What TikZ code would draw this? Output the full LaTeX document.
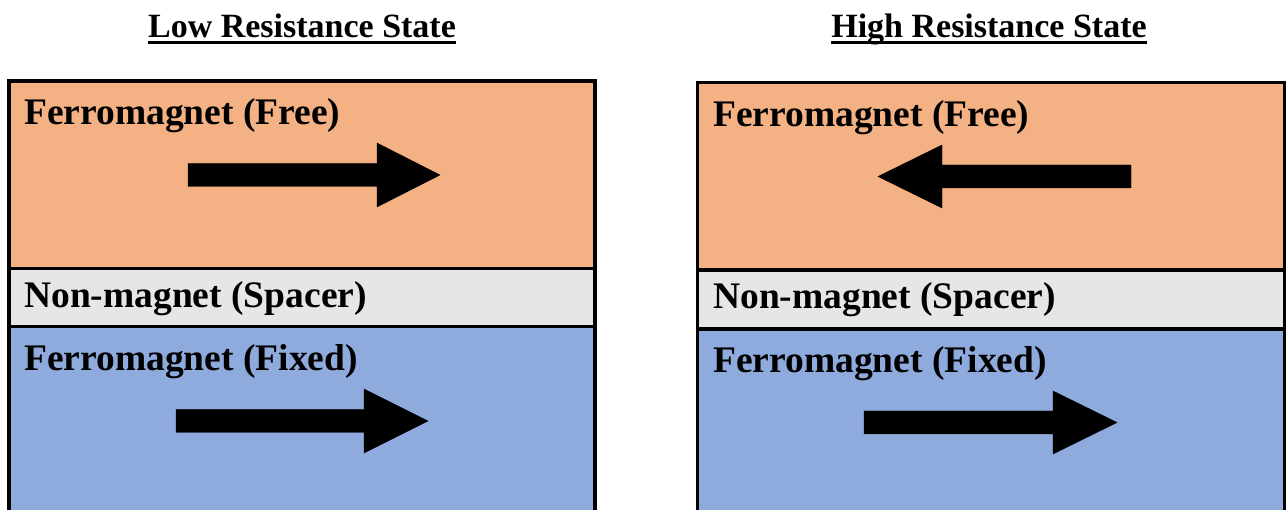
\documentclass[tikz,border=0pt]{standalone}
\usepackage{fontspec}
\setmainfont{Liberation Serif}
\definecolor{freeC}{HTML}{F4B183}
\definecolor{spacerC}{HTML}{E6E6E6}
\definecolor{fixedC}{HTML}{8FAADC}
\tikzset{
  layertext/.style={anchor=base west, inner sep=0pt, font=\fontsize{37.5}{40}\selectfont\bfseries},
  titletext/.style={anchor=base, inner sep=0pt, font=\fontsize{34}{38}\selectfont\bfseries},
  border/.style={line width=3.5pt, draw=black},
  bigarrow/.style={fill=black, draw=black, line width=0.4pt, line join=miter},
}
\begin{document}
\begin{tikzpicture}[x=1pt,y=-1pt]
\useasboundingbox (0,0) rectangle (1288,510);
\clip (0,0) rectangle (1288,510);
\fill[white] (0,0) rectangle (1288,510);

% ---------- Left panel ----------
\fill[freeC]   (9,81) rectangle (595,268.5);
\fill[spacerC] (9,268.5) rectangle (595,326.5);
\fill[fixedC]  (9,326.5) rectangle (595,530);
\draw[border] (9,530) -- (9,81) -- (595,81) -- (595,530);
\draw[border] (9,268.5) -- (595,268.5);
\draw[border] (9,326.5) -- (595,326.5);

\node[titletext] (t1) at (302,37.5) {Low Resistance State};
\draw[line width=3.5pt] ([yshift=-5pt]t1.base west) -- ([yshift=-5pt]t1.base east);

\node[layertext] (l1free)  at (24,125) {Ferromagnet (Free)};
\node[layertext] (l1space) at (24,308) {Non-magnet (Spacer)};
\node[layertext] (l1fixed) at (24,371) {Ferromagnet (Fixed)};

\fill[bigarrow] (188,163.5) -- (377,163.5) -- (377,143) -- (440,175) -- (377,207) -- (377,186.5) -- (188,186.5) -- cycle;
\fill[bigarrow] (176,409.5) -- (364,409.5) -- (364,389) -- (428,421) -- (364,453) -- (364,432.5) -- (176,432.5) -- cycle;

% ---------- Right panel ----------
\fill[freeC]   (697.5,82.5) rectangle (1284.5,270);
\fill[spacerC] (697.5,270) rectangle (1284.5,329);
\fill[fixedC]  (697.5,329) rectangle (1284.5,530);
\draw[border] (697.5,530) -- (697.5,82.5) -- (1284.5,82.5) -- (1284.5,530);
\draw[border] (697.5,270) -- (1284.5,270);
\draw[border] (697.5,329) -- (1284.5,329);

\node[titletext] (t2) at (989,37.5) {High Resistance State};
\draw[line width=3.5pt] ([yshift=-5pt]t2.base west) -- ([yshift=-5pt]t2.base east);

\node[layertext] (r1free)  at (713,127) {Ferromagnet (Free)};
\node[layertext] (r1space) at (713,309) {Non-magnet (Spacer)};
\node[layertext] (r1fixed) at (713,373) {Ferromagnet (Fixed)};

\fill[bigarrow] (1131,165) -- (942,165) -- (942,145) -- (878,176.5) -- (942,208) -- (942,188) -- (1131,188) -- cycle;
\fill[bigarrow] (864,411) -- (1053,411) -- (1053,391) -- (1117,422.5) -- (1053,454) -- (1053,434) -- (864,434) -- cycle;
\end{tikzpicture}
\end{document}
